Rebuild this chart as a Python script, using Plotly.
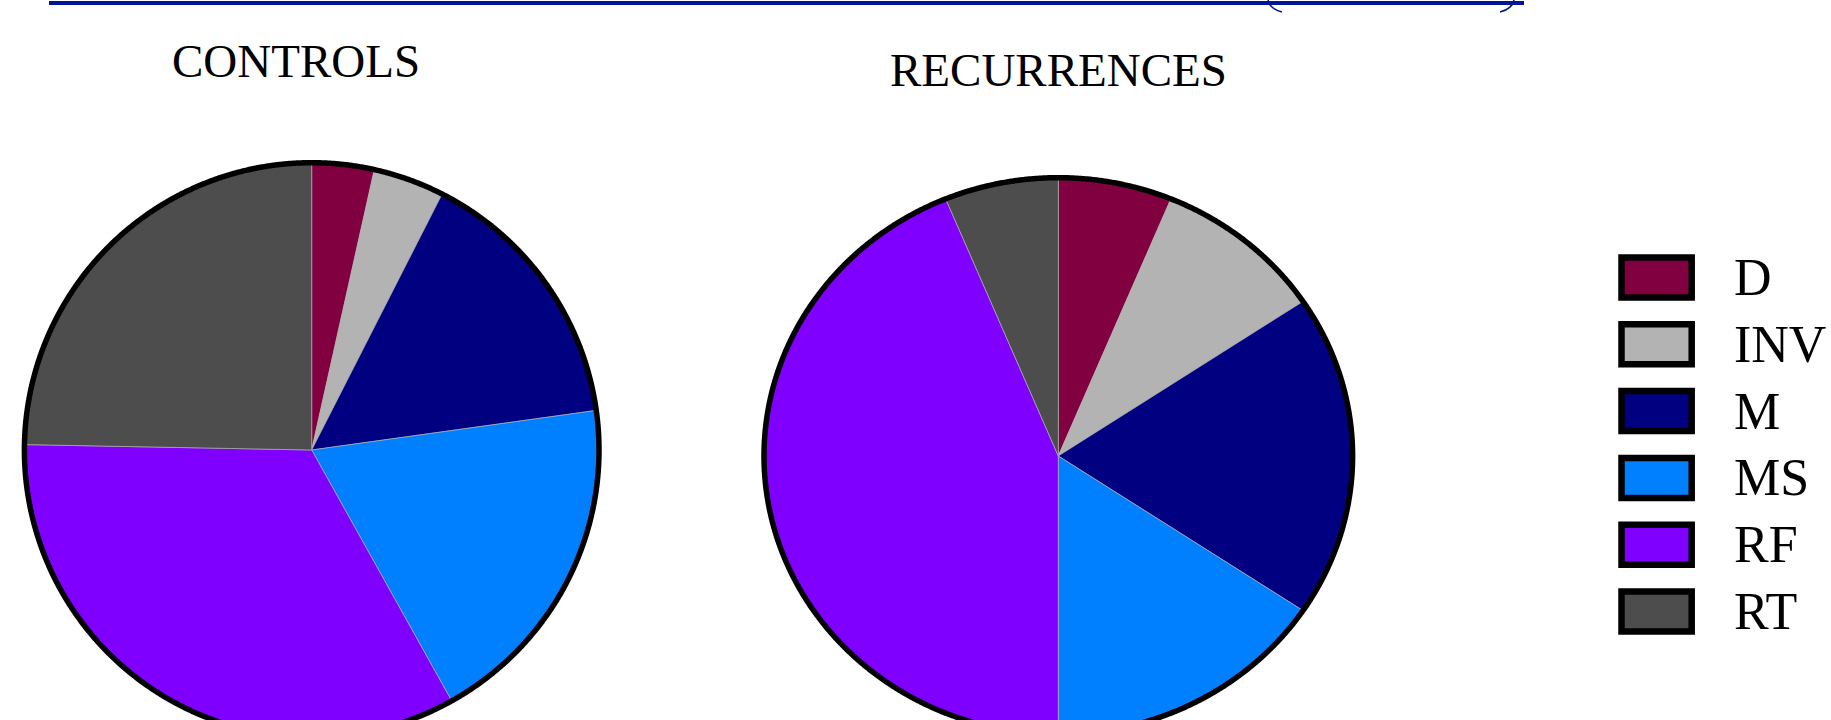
import numpy as np
import plotly.graph_objects as go

# Category order, legend labels and slice colours
categories = ["D", "INV", "M", "MS", "RF", "RT"]
colors = ["#800040", "#b3b3b3", "#000080", "#0080ff", "#8000ff", "#4d4d4d"]

# Share of each category (controls in %, recurrences as case counts)
controls_pct = [3.5, 4.0, 15.3, 19.1, 33.4, 24.7]
recurrences_n = [2, 3, 6, 5, 14, 2]

panel_titles = ["CONTROLS", "RECURRENCES"]

W, H = 1831, 720
SERIF = "Liberation Serif, Times New Roman, serif"

# Pie placement in pixel-like axis units (centre, radii of the rim line, title anchor)
layouts = [
    dict(cx=311.7, cy=450.0, rx=287.3, ry=287.3, tx=296, ty=61),
    dict(cx=1058.3, cy=456.0, rx=294.3, ry=278.3, tx=1058, ty=70),
]
series = [controls_pct, recurrences_n]

fig = go.Figure()


def arc(cx, cy, rx, ry, f0, f1, n=1440):
    """Points on an elliptical arc, clockwise from 12 o'clock (fractions of a turn)."""
    t = np.linspace(f0, f1, max(int(abs(f1 - f0) * n), 2)) * 2 * np.pi
    return cx + rx * np.sin(t), cy - ry * np.cos(t)


for vals, geo, title in zip(series, layouts, panel_titles):
    v = np.asarray(vals, dtype=float)
    cum = np.concatenate([[0.0], np.cumsum(v) / v.sum()])
    for i, cat in enumerate(categories):
        ax, ay = arc(geo["cx"], geo["cy"], geo["rx"], geo["ry"], cum[i], cum[i + 1])
        xs = np.concatenate([[geo["cx"]], ax, [geo["cx"]]])
        ys = np.concatenate([[geo["cy"]], ay, [geo["cy"]]])
        fig.add_trace(go.Scatter(
            x=xs, y=ys, mode="lines", fill="toself",
            fillcolor=colors[i],
            line=dict(color="rgba(175,175,175,0.85)", width=0.8, simplify=False),
            name=cat, text=f"{title} {cat}: {vals[i]}", hoverinfo="text",
            showlegend=False,
        ))
    # black rim around the pie
    rxs, rys = arc(geo["cx"], geo["cy"], geo["rx"], geo["ry"], 0.0, 1.0)
    fig.add_trace(go.Scatter(
        x=rxs, y=rys, mode="lines",
        line=dict(color="black", width=5.5, simplify=False),
        hoverinfo="skip", showlegend=False,
    ))
    fig.add_annotation(
        x=geo["tx"], y=geo["ty"], xref="x", yref="y", text=title, showarrow=False,
        xanchor="center", yanchor="middle",
        font=dict(family=SERIF, size=47, color="black"),
    )

# Legend: framed colour swatches with labels
LEG_X0, LEG_X1 = 1621.5, 1691.7
LEG_Y0, LEG_H, LEG_STEP = 257.5, 40.0, 66.8
for i, cat in enumerate(categories):
    y0 = LEG_Y0 + i * LEG_STEP
    fig.add_shape(
        type="rect", xref="x", yref="y", x0=LEG_X0, x1=LEG_X1, y0=y0, y1=y0 + LEG_H,
        line=dict(color="black", width=6.5), fillcolor=colors[i], layer="above",
    )
    fig.add_annotation(
        x=1732, y=y0 + LEG_H / 2, xref="x", yref="y", text=cat, showarrow=False,
        xanchor="left", yanchor="middle",
        font=dict(family=SERIF, size=52, color="black"),
    )

# Rule across the top with its two curved end ticks
BLUE = "#001596"
fig.add_shape(type="line", xref="x", yref="y", x0=49, x1=1524, y0=3, y1=3,
              line=dict(color=BLUE, width=4))
fig.add_shape(type="path", xref="x", yref="y", path="M 1268,0 Q 1270,9 1282,12",
              line=dict(color=BLUE, width=1.6))
fig.add_shape(type="path", xref="x", yref="y", path="M 1514,0 Q 1512,9 1500,12",
              line=dict(color=BLUE, width=1.6))

fig.update_xaxes(range=[0, W], visible=False, fixedrange=True)
fig.update_yaxes(range=[H, 0], visible=False, fixedrange=True)
fig.update_layout(
    width=W, height=H,
    margin=dict(l=0, r=0, t=0, b=0),
    paper_bgcolor="white", plot_bgcolor="white",
    showlegend=False,
)

fig.write_html("out.html")
